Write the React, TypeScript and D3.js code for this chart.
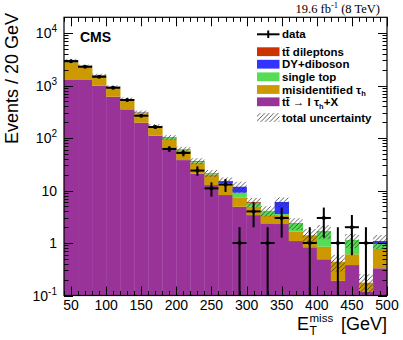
import React, { useRef, useEffect } from 'react';
import * as d3 from 'd3';

// E_T^miss bins (GeV), 20 GeV wide
const binCenters = [50, 70, 90, 110, 130, 150, 170, 190, 210, 230, 250, 270, 290, 310, 330, 350, 370, 390, 410, 430, 450, 470, 490];

// stacked backgrounds, bottom to top
const ttTauH = [1310, 1310, 990, 612, 352, 196, 111, 62, 38, 21, 12.7, 8.2, 4.9, 3.4, 2.37, 2.3, 1.09, 0.83, 0.49, 0.19, 0.38, 0.117, 0.33];
const misTau = [1480, 950, 520, 300, 180, 98, 51, 34, 20, 13, 7.5, 5.3, 2.5, 1.5, 1.03, 0.97, 0.55, 0.57, 0.36, 0.25, 0.23, 0.058, 0.44];
const singleTop = [70, 50, 35, 20, 12, 9, 4, 4, 2, 1.5, 0.7, 0.3, 1.7, 0.9, 0.7, 0.29, 0.68, 0.02, 0.84, 0, 0.53, 0, 0.19];
const dyDiboson = [170, 55, 30, 12, 6, 3, 2, 2, 0.6, 0.8, 0.3, 1.3, 2.7, 0, 0, 2.49, 0.05, 0, 0, 0, 0, 0, 0.13];
const ttDilep = [30, 15, 10, 6, 3, 3, 1, 1, 0.4, 0.2, 0.1, 0.1, 0, 0.2, 0, 0, 0, 0, 0, 0, 0, 0, 0];

// relative total uncertainty per bin
const relUnc = [0.05, 0.05, 0.06, 0.06, 0.07, 0.08, 0.09, 0.1, 0.12, 0.13, 0.15, 0.17, 0.25, 0.2, 0.22, 0.22, 0.25, 0.3, 0.3, 0.35, 0.3, 0.45, 0.3];

const dataCounts = [2900, 2280, 1470, 908, 530, 266, 162, 62, 52, 24, 11, 13, 1, 4, 1, 3, 0, 1, 3, 1, 2, 1, 0];

const xTickLabels = [50, 100, 150, 200, 250, 300, 350, 400, 450, 500];
const yDecades = [-1, 0, 1, 2, 3, 4];

const layers = [
  { key: 'ttTauH', values: ttTauH, color: '#993399' },
  { key: 'misTau', values: misTau, color: '#cc9900' },
  { key: 'singleTop', values: singleTop, color: '#55dd55' },
  { key: 'dyDiboson', values: dyDiboson, color: '#3333ff' },
  { key: 'ttDilep', values: ttDilep, color: '#cc3300' },
];

const SANS = 'Liberation Sans, Arial, sans-serif';
const SERIF = 'Liberation Serif, Times New Roman, serif';

const App = () => {
  const svgRef = useRef(null);

  useEffect(() => {
    const svg = d3.select(svgRef.current);
    svg.selectAll('*').remove();

    const left = 64, right = 387, top = 17.3, bottom = 295.5;
    const x = d3.scaleLinear().domain([40, 500]).range([left, right]);
    const y = d3.scaleLog().domain([0.1, Math.pow(10, 4.3)]).range([bottom, top]).clamp(true);

    const defs = svg.append('defs');
    const pat = defs.append('pattern')
      .attr('id', 'hatch')
      .attr('patternUnits', 'userSpaceOnUse')
      .attr('width', 4.5)
      .attr('height', 4.5);
    pat.append('path')
      .attr('d', 'M-1,1 l2,-2 M0,4.5 l4.5,-4.5 M3.5,5.5 l2,-2')
      .attr('stroke', '#333')
      .attr('stroke-width', 0.8);

    const rows = binCenters.map((c, i) => {
      const r: any = { c };
      layers.forEach(l => { r[l.key] = l.values[i]; });
      return r;
    });
    const stack = d3.stack().keys(layers.map(l => l.key))(rows);

    const gStack = svg.append('g');
    stack.forEach((layer, li) => {
      gStack.append('g')
        .attr('fill', layers[li].color)
        .selectAll('rect')
        .data(layer.filter(d => d[1] - d[0] > 0))
        .join('rect')
        .attr('x', d => x(d.data.c - 10))
        .attr('width', d => x(d.data.c + 10) - x(d.data.c - 10) + 0.3)
        .attr('y', d => y(d[1]))
        .attr('height', d => Math.max(0, y(Math.max(d[0], 0.1)) - y(d[1])));
    });

    // total uncertainty band
    const totals = binCenters.map((c, i) => layers.reduce((s, l) => s + l.values[i], 0));
    svg.append('g')
      .attr('fill', 'url(#hatch)')
      .selectAll('rect')
      .data(binCenters)
      .join('rect')
      .attr('x', c => x(c - 10))
      .attr('width', c => x(c + 10) - x(c - 10))
      .attr('y', (c, i) => y(totals[i] * (1 + relUnc[i])))
      .attr('height', (c, i) => y(Math.max(totals[i] * (1 - relUnc[i]), 0.1)) - y(totals[i] * (1 + relUnc[i])));

    // data points
    const gData = svg.append('g').attr('stroke', '#000').attr('stroke-width', 2);
    binCenters.forEach((c, i) => {
      const n = dataCounts[i];
      if (n <= 0) return;
      const e = Math.sqrt(n);
      gData.append('line')
        .attr('x1', x(c - 10)).attr('x2', x(c + 10))
        .attr('y1', y(n)).attr('y2', y(n));
      gData.append('line')
        .attr('x1', x(c)).attr('x2', x(c))
        .attr('y1', y(n + e)).attr('y2', n - e > 0.1 ? y(n - e) : bottom);
      gData.append('circle')
        .attr('cx', x(c)).attr('cy', y(n)).attr('r', 2)
        .attr('fill', '#000').attr('stroke', 'none');
    });

    // frame and ticks
    const gAxes = svg.append('g').attr('stroke', '#000').attr('stroke-width', 1);
    const major = 9, minor = 4.5;
    for (let v = 40; v <= 500; v += 10) {
      const len = v % 50 === 0 ? major : minor;
      const px = Math.round(x(v)) + 0.5;
      gAxes.append('line').attr('x1', px).attr('x2', px).attr('y1', bottom).attr('y2', bottom - len);
      gAxes.append('line').attr('x1', px).attr('x2', px).attr('y1', top).attr('y2', top + len);
    }
    yDecades.forEach(dec => {
      for (let k = 1; k <= 9; k++) {
        const v = k * Math.pow(10, dec);
        if (v > Math.pow(10, 4.3)) break;
        const len = k === 1 ? major : minor;
        const py = Math.round(y(v)) + 0.5;
        gAxes.append('line').attr('x1', left).attr('x2', left + len).attr('y1', py).attr('y2', py);
        gAxes.append('line').attr('x1', right).attr('x2', right - len).attr('y1', py).attr('y2', py);
      }
    });
    svg.append('rect')
      .attr('x', left).attr('y', top)
      .attr('width', right - left).attr('height', bottom - top)
      .attr('fill', 'none').attr('stroke', '#000').attr('stroke-width', 1.2);

    // tick labels
    svg.append('g')
      .attr('font-family', SANS).attr('font-size', 14).attr('text-anchor', 'middle')
      .selectAll('text')
      .data(xTickLabels)
      .join('text')
      .attr('x', d => x(d))
      .attr('y', 309.5)
      .text(d => d);

    const gY = svg.append('g').attr('font-family', SANS).attr('font-size', 14).attr('text-anchor', 'end');
    yDecades.forEach(dec => {
      const t = gY.append('text').attr('x', 57).attr('y', y(Math.pow(10, dec))).attr('dy', '0.36em');
      if (dec === 0) t.text('1');
      else if (dec === 1) t.text('10');
      else {
        t.append('tspan').text('10');
        t.append('tspan').attr('font-size', 10).attr('dy', '-0.6em').text(String(dec));
      }
    });

    // axis titles
    svg.append('text')
      .attr('transform', 'translate(18,13) rotate(-90)')
      .attr('text-anchor', 'end')
      .attr('font-family', SANS).attr('font-size', 18)
      .text('Events / 20 GeV');

    const gXT = svg.append('g').attr('font-family', SANS);
    gXT.append('text').attr('x', 297).attr('y', 330).attr('font-size', 18).text('E');
    gXT.append('text').attr('x', 309.5).attr('y', 321.5).attr('font-size', 11.5).text('miss');
    gXT.append('text').attr('x', 309.5).attr('y', 334.5).attr('font-size', 12).text('T');
    gXT.append('text').attr('x', 387).attr('y', 330).attr('font-size', 18).attr('text-anchor', 'end').text('[GeV]');

    svg.append('text')
      .attr('x', 80).attr('y', 41.5)
      .attr('font-family', SANS).attr('font-size', 14).attr('font-weight', 'bold')
      .text('CMS');

    const lumi = svg.append('text')
      .attr('x', 380).attr('y', 13.3)
      .attr('text-anchor', 'end')
      .attr('font-family', SERIF).attr('font-size', 12.5);
    lumi.append('tspan').text('19.6 fb');
    lumi.append('tspan').attr('font-size', 8.5).attr('dy', '-0.6em').text('-1');
    lumi.append('tspan').attr('dy', '0.41em').text(' (8 TeV)');

    // legend
    const gLeg = svg.append('g').attr('font-family', SANS).attr('font-size', 11.5).attr('font-weight', 'bold');
    const sx0 = 257, sx1 = 279.5, tx = 282;
    gLeg.append('line').attr('x1', sx0).attr('x2', sx1).attr('y1', 34.3).attr('y2', 34.3).attr('stroke', '#000').attr('stroke-width', 2);
    gLeg.append('line').attr('x1', (sx0 + sx1) / 2).attr('x2', (sx0 + sx1) / 2).attr('y1', 30.5).attr('y2', 38).attr('stroke', '#000').attr('stroke-width', 2);
    gLeg.append('text').attr('x', tx).attr('y', 34.3).attr('dy', '0.36em').text('data');

    const legRows = [
      { color: '#cc3300', y: 51.7 },
      { color: '#3333ff', y: 64.2 },
      { color: '#55dd55', y: 76.8 },
      { color: '#cc9900', y: 89.5 },
      { color: '#993399', y: 101.8 },
      { color: 'url(#hatch)', y: 117.5 },
    ];
    legRows.forEach(r => {
      gLeg.append('rect').attr('x', sx0).attr('y', r.y - 4.4).attr('width', sx1 - sx0).attr('height', 8.8).attr('fill', r.color);
    });
    const lt = (yy: number) => gLeg.append('text').attr('x', tx).attr('y', yy).attr('dy', '0.36em');
    lt(51.7).text('tt\u0304 dileptons');
    lt(64.2).text('DY+diboson');
    lt(76.8).text('single top');
    const mis = lt(89.5);
    mis.append('tspan').text('misidentified \u03c4');
    mis.append('tspan').attr('font-size', 7.5).attr('dy', '0.35em').text('h');
    const tl = lt(101.8);
    tl.append('tspan').text('tt\u0304 \u2192 l \u03c4');
    tl.append('tspan').attr('font-size', 7.5).attr('dy', '0.35em').text('h');
    tl.append('tspan').attr('dy', '-0.25em').text('+X');
    lt(117.5).text('total uncertainty');
  }, []);

  return (
    <svg
      ref={svgRef}
      width={403}
      height={340}
      style={{ position: 'absolute', left: 0, top: 0, background: '#fff' }}
    />
  );
};

export default App;
